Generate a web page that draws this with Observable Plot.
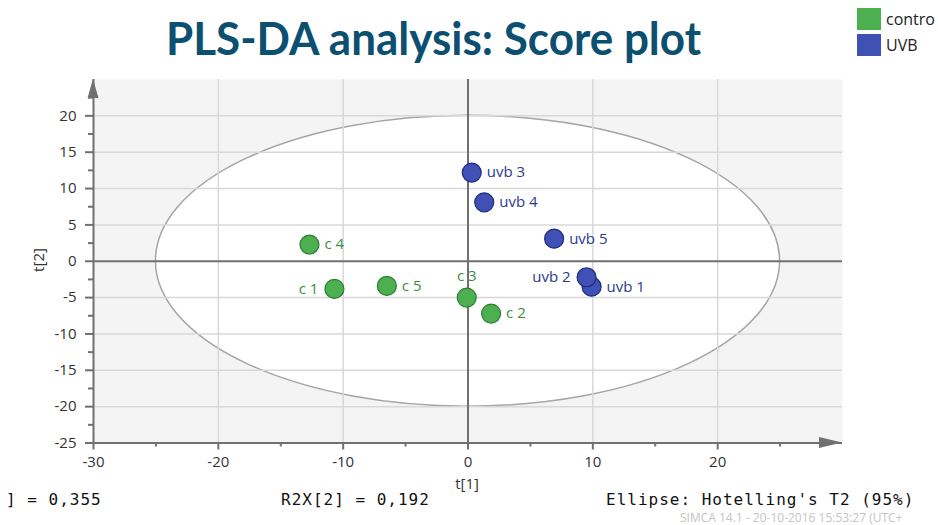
<!DOCTYPE html>
<html><head><meta charset="utf-8">
<script src="https://cdn.jsdelivr.net/npm/d3@7"></script>
<script src="https://cdn.jsdelivr.net/npm/@observablehq/plot@0.6"></script>
<style>
body{margin:0;background:#fff;}
#wrap{position:relative;width:938px;height:525px;overflow:hidden;font-family:"Open Sans",sans-serif;}
#wrap svg{position:absolute;left:0;top:0;}
.abs{position:absolute;white-space:nowrap;line-height:1;}
.mono{font-family:"DejaVu Sans Mono",monospace;font-size:16px;letter-spacing:1px;color:#111;}
</style></head><body><div id="wrap"></div>
<script>
// ---- data ----
const names  = ["c 1", "c 2", "c 3", "c 4", "c 5", "uvb 1", "uvb 2", "uvb 3", "uvb 4", "uvb 5"];
const groups = ["contro", "contro", "contro", "contro", "contro", "UVB", "UVB", "UVB", "UVB", "UVB"];
const t1     = [-10.7, 1.85, -0.1, -12.7, -6.5, 9.9, 9.5, 0.3, 1.3, 6.9];
const t2     = [-3.8, -7.2, -5.0, 2.3, -3.4, -3.5, -2.2, 12.2, 8.1, 3.1];
const legendLabels = ["contro", "UVB"];
const xTicks = [-30, -20, -10, 0, 10, 20];
const xMinor = [-25, -15, -5, 5, 15, 25];
const yTicks = [-25, -20, -15, -10, -5, 0, 5, 10, 15, 20];
const yMinor = [-22.5, -17.5, -12.5, -7.5, -2.5, 2.5, 7.5, 12.5, 17.5, 22.5];
const xGrid = [-20, -10, 10, 20];
const yGrid = [-20, -15, -10, -5, 5, 10, 15, 20];
const xDomain = [-30, 30];
const yDomain = [-25, 25];
const ellipseRadii = [25, 20]; // Hotelling's T2 (95%)
const leftLabels = ["c 1", "uvb 2"];
const aboveLabels = ["c 3"];

const fillColor   = {contro: "#4caf50", UVB: "#3f51b5"};
const strokeColor = {contro: "#2e7d32", UVB: "#1f2a80"};
const textColor   = {contro: "#3b8e3b", UVB: "#2c3a8e"};

const pts = names.map((n, i) => ({name: n, group: groups[i], t1: t1[i], t2: t2[i]}));
const right = pts.filter(d => !leftLabels.includes(d.name) && !aboveLabels.includes(d.name));
const left = pts.filter(d => leftLabels.includes(d.name));
const above = pts.filter(d => aboveLabels.includes(d.name));

function ellipseMark(index, scales) {
  const {x, y} = scales;
  const g = d3.create("svg:g");
  g.append("ellipse")
    .attr("cx", x(0)).attr("cy", y(0))
    .attr("rx", Math.abs(x(ellipseRadii[0]) - x(0)))
    .attr("ry", Math.abs(y(ellipseRadii[1]) - y(0)))
    .attr("fill", "#fff").attr("stroke", "#a5a5a5").attr("stroke-width", 1.5);
  return g.node();
}
function arrowMark(index, scales) {
  const {x, y} = scales;
  const xa = x(xDomain[1]), ya = y(yDomain[0]);
  const xb = x(xDomain[0]), yb = y(yDomain[1]);
  const g = d3.create("svg:g");
  g.append("path")
    .attr("d", `M${xa},${ya}L${xa - 23},${ya - 5.5}L${xa - 23},${ya + 5.5}Z M${xb},${yb}L${xb - 5.5},${yb + 19}L${xb + 5.5},${yb + 19}Z`)
    .attr("fill", "#707070");
  return g.node();
}

const axisColor = "#707070";
const plot = Plot.plot({
  width: 938, height: 525,
  marginLeft: 93, marginRight: 96, marginTop: 79, marginBottom: 82.5,
  x: {domain: xDomain, label: null},
  y: {domain: yDomain, label: null},
  style: {background: "transparent", fontFamily: "'Open Sans', sans-serif", fontSize: "15px", color: "#333", overflow: "visible"},
  marks: [
    Plot.frame({fill: "#f4f4f4", stroke: null}),
    ellipseMark,
    Plot.ruleX(xGrid, {stroke: "#d8d8d8", strokeWidth: 1.5}),
    Plot.ruleY(yGrid, {stroke: "#d8d8d8", strokeWidth: 1.5}),
    Plot.ruleX([0], {stroke: axisColor, strokeWidth: 2}),
    Plot.ruleY([0], {stroke: axisColor, strokeWidth: 2}),
    Plot.ruleX([xDomain[0]], {stroke: axisColor, strokeWidth: 2}),
    Plot.ruleY([yDomain[0]], {stroke: axisColor, strokeWidth: 2}),
    arrowMark,
    Plot.axisX({ticks: xTicks, tickSize: 7, tickPadding: 6, tickFormat: d => String(d), stroke: axisColor, strokeWidth: 2, fill: "#333", label: null}),
    Plot.axisX({ticks: xMinor, tickSize: 4, text: null, stroke: axisColor, strokeWidth: 2, label: null}),
    Plot.axisY({ticks: yTicks, tickSize: 8, tickPadding: 9, tickFormat: d => String(d), stroke: axisColor, strokeWidth: 2, fill: "#333", label: null}),
    Plot.axisY({ticks: yMinor, tickSize: 5, text: null, stroke: axisColor, strokeWidth: 2, label: null}),
    Plot.dot(pts, {x: "t1", y: "t2", r: 9.5, fill: d => fillColor[d.group], stroke: d => strokeColor[d.group], strokeWidth: 1.2}),
    Plot.text(right, {x: "t1", y: "t2", text: "name", dx: 15, textAnchor: "start", fill: d => textColor[d.group], fontSize: 15}),
    Plot.text(left, {x: "t1", y: "t2", text: "name", dx: -16, textAnchor: "end", fill: d => textColor[d.group], fontSize: 15}),
    Plot.text(above, {x: "t1", y: "t2", text: "name", dy: -21, textAnchor: "middle", fill: d => textColor[d.group], fontSize: 15})
  ]
});
const wrap = document.getElementById("wrap");
wrap.appendChild(plot);

function addDiv(text, css, cls) {
  const d = document.createElement("div");
  d.className = "abs" + (cls ? " " + cls : "");
  d.textContent = text;
  Object.assign(d.style, css);
  wrap.appendChild(d);
  return d;
}
// title
const title = addDiv("PLS-DA analysis: Score plot", {left: "166px", top: "16px", fontFamily: "Lato, sans-serif", fontWeight: "700", fontSize: "45px", color: "#0b4f71", transformOrigin: "0 0"});
const tw = title.getBoundingClientRect().width;
title.style.transform = `scaleX(${535 / tw})`;

// legend
legendLabels.forEach((g, i) => {
  const sw = document.createElement("div");
  sw.className = "abs";
  Object.assign(sw.style, {left: "857px", top: (8 + i * 26) + "px", width: "24px", height: "22px", background: fillColor[g]});
  wrap.appendChild(sw);
  addDiv(g, {left: "886px", top: (9 + i * 26) + "px", fontSize: "16px", color: "#222", lineHeight: "20px"});
});

// axis titles
addDiv("t[1]", {left: "467px", top: "476px", fontSize: "15px", color: "#333", transform: "translateX(-50%)"});
addDiv("t[2]", {left: "38px", top: "260px", fontSize: "15px", color: "#333", transform: "translate(-50%,-50%) rotate(-90deg)"});

// footer
addDiv("] = 0,355", {left: "6px", top: "492px"}, "mono");
addDiv("R2X[2] = 0,192", {left: "281px", top: "492px"}, "mono");
addDiv("Ellipse: Hotelling's T2 (95%)", {left: "606px", top: "492px"}, "mono");
addDiv("SIMCA 14.1 - 20-10-2016 15:53:27 (UTC+", {left: "680px", top: "512px", fontSize: "12px", color: "#c4c4c4"});
</script>
</body></html>
